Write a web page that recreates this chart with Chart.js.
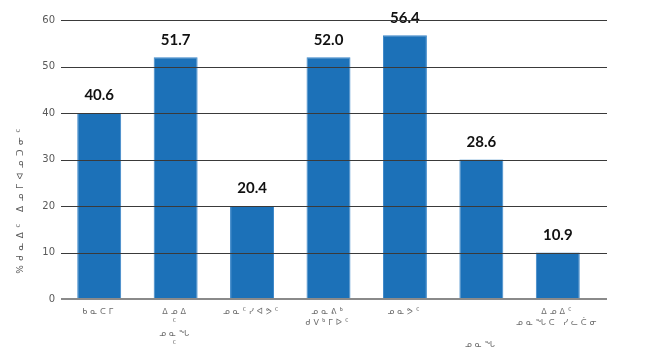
<!DOCTYPE html>
<html>
<head>
<meta charset="utf-8">
<script src="https://cdn.jsdelivr.net/npm/chart.js@4/dist/chart.umd.min.js"></script>
<style>
html,body{margin:0;padding:0;background:#fff;}
#wrap{width:661px;height:355px;}
</style>
</head>
<body>
<div id="wrap"><canvas id="c" width="661" height="355"></canvas></div>
<script>
// ---- data ----
const categories = [
  ["ᑲᓇᑕᒥ"],
  ["ᐃᓄᐃ", "ᑦ", "ᓄᓇᖓ", "ᑦ"],
  ["ᓄᓇᑦᓯᐊᕗᑦ"],
  ["ᓄᓇᕕᒃ", "ᑯᐯᒃᒥᐅᑦ"],
  ["ᓄᓇᕗᑦ"],
  ["", "", "", "ᓄᓇᖓ"],
  ["ᐃᓄᐃᑦ", "ᓄᓇᖓᑕ ᓯᓚᑖᓂ"]
];
const barHeights = [40, 52, 20, 52, 56.7, 30, 10];
const valueLabels = ["40.6", "51.7", "20.4", "52.0", "56.4", "28.6", "10.9"];
const yTicks = [0, 10, 20, 30, 40, 50, 60];
const yTitle = "%ᑯᓇᐃᑦ ᐃᓄᒥᐊᓄᑐᓂᑦ";

const spacing = {
  id: 'spacing',
  beforeDraw(chart) { chart.ctx.letterSpacing = '3px'; }
};

const overlay = {
  id: 'overlay',
  afterDatasetsDraw(chart) {
    const ctx = chart.ctx;
    ctx.letterSpacing = '0px';
    const meta = chart.getDatasetMeta(0);
    const y = chart.scales.y;
    const area = chart.chartArea;
    ctx.save();
    // value labels
    ctx.fillStyle = '#111';
    ctx.font = 'bold 15px Lato';
    ctx.textAlign = 'center';
    ctx.textBaseline = 'middle';
    meta.data.forEach((bar, i) => {
      ctx.fillText(valueLabels[i], bar.x, bar.y - 17.5);
    });
    // grid lines on top of bars
    yTicks.forEach(v => {
      const py = Math.round(y.getPixelForValue(v));
      ctx.beginPath();
      if (v === 0) {
        ctx.strokeStyle = '#8a8a8a';
        ctx.lineWidth = 2;
        ctx.moveTo(area.left, py);
        ctx.lineTo(area.right + 11, py);
      } else {
        ctx.strokeStyle = '#3a3a3a';
        ctx.lineWidth = 1;
        ctx.moveTo(area.left, py + 0.5);
        ctx.lineTo(area.right + 11, py + 0.5);
      }
      ctx.stroke();
    });
    // y title
    ctx.translate(21, 199);
    ctx.rotate(-Math.PI / 2);
    ctx.fillStyle = '#595959';
    ctx.font = '9px "DejaVu Sans"';
    ctx.letterSpacing = '4.5px';
    ctx.textAlign = 'center';
    ctx.textBaseline = 'middle';
    ctx.fillText(yTitle, 0, 0);
    ctx.restore();
  }
};

new Chart(document.getElementById('c'), {
  type: 'bar',
  data: {
    labels: categories,
    datasets: [{
      data: barHeights,
      backgroundColor: '#1c71b8',
      borderColor: '#3a86c8',
      borderWidth: 1,
      barPercentage: 0.575,
      categoryPercentage: 1
    }]
  },
  options: {
    responsive: false,
    animation: false,
    devicePixelRatio: 1,
    layout: { padding: { top: 20, right: 65, left: 0, bottom: 0 } },
    plugins: { legend: { display: false }, tooltip: { enabled: false } },
    scales: {
      x: {
        grid: { display: false, drawTicks: false },
        border: { display: false },
        ticks: {
          color: '#6e6e6e',
          font: { family: '"DejaVu Sans"', size: 8, lineHeight: 1.35 },
          padding: 8,
          maxRotation: 0,
          autoSkip: false
        },
        afterFit(s) { s.height = 56; }
      },
      y: {
        min: 0, max: 60,
        afterBuildTicks(s) { s.ticks = yTicks.map(v => ({ value: v })); },
        grid: { display: false, drawTicks: false },
        border: { display: false },
        ticks: {
          z: 1,
          color: '#595959',
          font: { family: '"DejaVu Sans"', size: 10 },
          padding: 6
        },
        afterFit(s) { s.width = 61; }
      }
    }
  },
  plugins: [spacing, overlay]
});
</script>
</body>
</html>
